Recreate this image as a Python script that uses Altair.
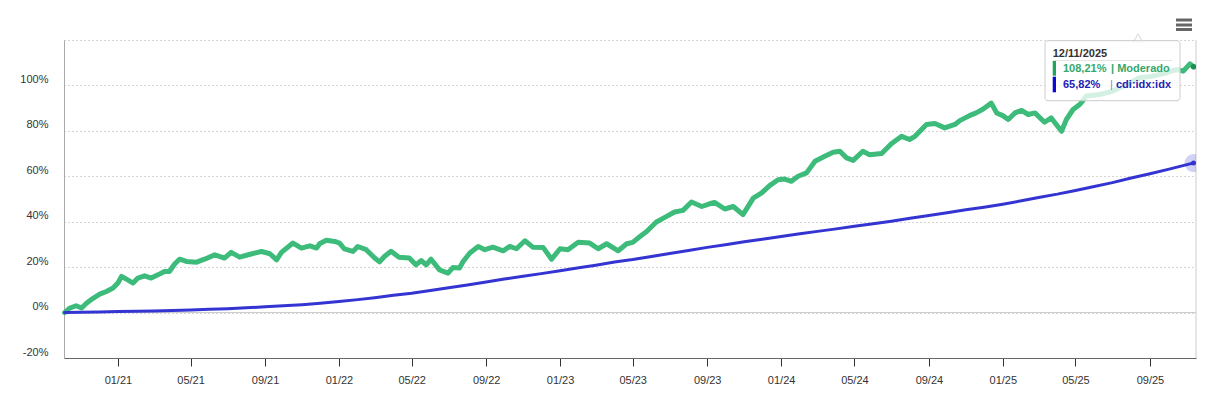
import altair as alt
import pandas as pd

# ---------------- data ----------------
moderado_dates = [
    "2020-10-05", "2020-10-13", "2020-10-24", "2020-11-02", "2020-11-10", "2020-11-21",
    "2020-12-02", "2020-12-13", "2020-12-24", "2021-01-01", "2021-01-07", "2021-01-15",
    "2021-01-26", "2021-02-03", "2021-02-14", "2021-02-25", "2021-03-08", "2021-03-19",
    "2021-03-27", "2021-04-05", "2021-04-13", "2021-04-24", "2021-05-11", "2021-05-24",
    "2021-06-10", "2021-06-26", "2021-07-07", "2021-07-21", "2021-08-09", "2021-08-26",
    "2021-09-09", "2021-09-20", "2021-09-28", "2021-10-17", "2021-10-31", "2021-11-14",
    "2021-11-25", "2021-11-30", "2021-12-11", "2021-12-25", "2022-01-02", "2022-01-10",
    "2022-01-24", "2022-02-01", "2022-02-15", "2022-03-01", "2022-03-09", "2022-03-17",
    "2022-03-28", "2022-04-10", "2022-04-27", "2022-05-08", "2022-05-17", "2022-05-25",
    "2022-06-02", "2022-06-16", "2022-06-30", "2022-07-08", "2022-07-19", "2022-07-25",
    "2022-08-05", "2022-08-19", "2022-08-30", "2022-09-12", "2022-09-29", "2022-10-10",
    "2022-10-21", "2022-11-04", "2022-11-17", "2022-12-04", "2022-12-18", "2023-01-01",
    "2023-01-14", "2023-01-31", "2023-02-19", "2023-03-05", "2023-03-19", "2023-04-07",
    "2023-04-21", "2023-05-01", "2023-05-13", "2023-05-24", "2023-06-09", "2023-06-23",
    "2023-07-09", "2023-07-23", "2023-08-06", "2023-08-23", "2023-09-05", "2023-09-13",
    "2023-09-30", "2023-10-14", "2023-10-30", "2023-11-16", "2023-11-30", "2023-12-13",
    "2023-12-27", "2024-01-07", "2024-01-18", "2024-01-29", "2024-02-12", "2024-02-26",
    "2024-03-13", "2024-03-27", "2024-04-07", "2024-04-18", "2024-04-29", "2024-05-15",
    "2024-05-26", "2024-06-15", "2024-07-01", "2024-07-18", "2024-07-31", "2024-08-09",
    "2024-08-28", "2024-09-11", "2024-09-27", "2024-10-14", "2024-10-22", "2024-11-07",
    "2024-11-18", "2024-11-29", "2024-12-13", "2024-12-22", "2025-01-01", "2025-01-10",
    "2025-01-21", "2025-02-01", "2025-02-12", "2025-02-23", "2025-03-11", "2025-03-22",
    "2025-04-08", "2025-04-16", "2025-04-27", "2025-05-08", "2025-05-19", "2025-06-10",
    "2025-07-02", "2025-07-24", "2025-08-15", "2025-09-06", "2025-09-28", "2025-10-15",
    "2025-10-26", "2025-11-06", "2025-11-12",
]
moderado_values = [
    0.0, 1.9, 3.0, 2.0, 4.1, 6.3,
    8.1, 9.3, 10.8, 13.0, 15.9, 14.7,
    13.0, 15.2, 16.2, 15.2, 16.6, 18.1,
    18.1, 21.5, 23.5, 22.5, 22.2, 23.5,
    25.4, 24.0, 26.5, 24.4, 25.8, 26.9,
    25.9, 23.2, 26.5, 30.6, 28.4, 29.4,
    28.4, 30.3, 31.8, 31.3, 30.6, 28.0,
    26.9, 29.1, 27.7, 24.0, 22.3, 24.7,
    27.0, 24.4, 24.0, 21.0, 22.9, 21.0,
    23.5, 18.8, 17.4, 19.8, 19.6, 22.5,
    26.2, 29.1, 27.7, 28.8, 27.2, 29.1,
    28.1, 31.6, 28.8, 28.7, 23.5, 28.1,
    27.7, 31.0, 30.6, 28.1, 30.3, 27.2,
    30.3, 30.9, 33.5, 35.7, 39.9, 41.9,
    44.3, 45.0, 48.7, 46.7, 47.9, 48.5,
    45.6, 46.7, 43.1, 50.4, 52.7, 55.9,
    58.5, 58.8, 57.8, 60.0, 61.5, 66.6,
    68.8, 70.6, 71.0, 68.1, 67.0, 71.0,
    69.5, 70.0, 74.3, 77.6, 76.2, 77.6,
    82.8, 83.2, 81.3, 82.8, 84.5, 86.7,
    87.9, 89.5, 92.2, 87.9, 86.7, 85.0,
    87.9, 89.0, 87.2, 87.9, 83.8, 85.7,
    79.8, 85.0, 89.4, 91.6, 95.3, 96.0,
    97.5, 100.4, 103.4, 104.1, 105.6, 107.0,
    106.3, 109.5, 108.21,
]

cdi_dates = [
    "2020-10-05", "2020-11-01", "2020-12-01", "2021-01-01", "2021-02-01", "2021-03-01",
    "2021-04-01", "2021-05-01", "2021-06-01", "2021-07-01", "2021-08-01", "2021-09-01",
    "2021-10-01", "2021-11-01", "2021-12-01", "2022-01-01", "2022-02-01", "2022-03-01",
    "2022-04-01", "2022-05-01", "2022-06-01", "2022-07-01", "2022-08-01", "2022-09-01",
    "2022-10-01", "2022-11-01", "2022-12-01", "2023-01-01", "2023-02-01", "2023-03-01",
    "2023-04-01", "2023-05-01", "2023-06-01", "2023-07-01", "2023-08-01", "2023-09-01",
    "2023-10-01", "2023-11-01", "2023-12-01", "2024-01-01", "2024-02-01", "2024-03-01",
    "2024-04-01", "2024-05-01", "2024-06-01", "2024-07-01", "2024-08-01", "2024-09-01",
    "2024-10-01", "2024-11-01", "2024-12-01", "2025-01-01", "2025-02-01", "2025-03-01",
    "2025-04-01", "2025-05-01", "2025-06-01", "2025-07-01", "2025-08-01", "2025-09-01",
    "2025-10-01", "2025-11-01", "2025-11-12",
]
cdi_values = [
    0.0, 0.14, 0.29, 0.45, 0.60, 0.73,
    0.93, 1.14, 1.41, 1.72, 2.09, 2.53,
    2.98, 3.48, 4.09, 4.89, 5.70, 6.55,
    7.60, 8.55, 9.75, 10.95, 12.15, 13.50,
    14.75, 15.95, 17.15, 18.45, 19.75, 20.85,
    22.25, 23.35, 24.70, 26.00, 27.30, 28.70,
    29.90, 31.15, 32.30, 33.45, 34.70, 35.75,
    36.85, 38.05, 39.15, 40.25, 41.50, 42.70,
    43.90, 45.23, 46.37, 47.73, 49.22, 50.70,
    52.15, 53.76, 55.51, 57.22, 59.23, 61.08,
    63.05, 65.13, 65.82,
]

series_names = ["Moderado", "cdi:idx:idx"]
tooltip_date = "12/11/2025"
x_tick_months = [(2021, 1), (2021, 5), (2021, 9), (2022, 1), (2022, 5), (2022, 9),
                 (2023, 1), (2023, 5), (2023, 9), (2024, 1), (2024, 5), (2024, 9),
                 (2025, 1), (2025, 5), (2025, 9)]
y_tick_values = [-20, 0, 20, 40, 60, 80, 100, 120]
x_domain = [(2020, 10, 4), (2025, 11, 16)]
y_domain = [-20, 120]

# ---------------- styling ----------------
FONT = "Liberation Sans"
GREEN = "#3dbb7a"
BLUE = "#3434d2"
W, H = 1132, 318

moderado_df = pd.DataFrame({"date": moderado_dates, "value": moderado_values})
cdi_df = pd.DataFrame({"date": cdi_dates, "value": cdi_values})
last_mod = moderado_df.iloc[[-1]]
last_cdi = cdi_df.iloc[[-1]]
zero_df = pd.DataFrame({"value": [0]})
one = pd.DataFrame({"a": [0]})


def fmt_pct(v):
    return f"{v:.2f}".replace(".", ",") + "%"


x_scale = alt.Scale(type="utc", domain=[alt.DateTime(year=y, month=m, date=d, utc=True)
                                        for (y, m, d) in x_domain])
y_scale = alt.Scale(domain=y_domain, nice=False, zero=False)

x_axis = alt.Axis(
    values=[alt.DateTime(year=y, month=m, date=1, utc=True) for (y, m) in x_tick_months],
    labelExpr="utcFormat(datum.value, '%m/%y')",
    grid=False, tickSize=8, tickColor="#333333",
    domainColor="#666666", labelPadding=8, labelFontSize=11, labelColor="#333333",
    labelFont=FONT, labelFlush=False, labelOverlap=False, title=None,
)
y_axis = alt.Axis(
    values=y_tick_values,
    labelExpr="datum.value >= 120 ? '' : datum.value + '%'",
    grid=True, gridDash=[1, 3], gridColor="#aaaaaa", domainColor="#aaaaaa",
    ticks=False, tickSize=0, labelPadding=16, labelOffset=-6, labelFontSize=11,
    labelColor="#333333", labelFont=FONT, title=None,
)

X = alt.X("date:T", scale=x_scale, axis=x_axis, title=None)
Y = alt.Y("value:Q", scale=y_scale, axis=y_axis, title=None)

zero_line = alt.Chart(zero_df).mark_rule(color="#cccccc", strokeWidth=1).encode(y=Y)

right_border = alt.Chart(one).mark_rule(color="#cccccc", strokeWidth=1).encode(
    x=alt.value(W), y=alt.value(0), y2=alt.value(H))

green_line = alt.Chart(moderado_df).mark_line(
    color=GREEN, strokeWidth=5, strokeJoin="round", strokeCap="round"
).encode(x=X, y=Y)

blue_line = alt.Chart(cdi_df).mark_line(
    color=BLUE, strokeWidth=3, strokeJoin="round", strokeCap="round"
).encode(x=X, y=Y)

halo = alt.Chart(last_cdi).mark_circle(color=BLUE, opacity=0.22, size=330, clip=True).encode(x=X, y=Y)
blue_dot = alt.Chart(last_cdi).mark_circle(color=BLUE, opacity=1, size=25, clip=True).encode(x=X, y=Y)
green_dot = alt.Chart(last_mod).mark_circle(color="#1e8f50", opacity=1, size=30, clip=True).encode(x=X, y=Y)

# tooltip box
TX0, TX1, TY0, TY1 = 981, 1116, 0.7, 60.7
pointer = alt.Chart(one).mark_point(shape="triangle-up", filled=True, fill="white",
                                    stroke="#c8c8c8", strokeWidth=1, size=90).encode(
    x=alt.value(1074), y=alt.value(-2))
box = alt.Chart(one).mark_rect(fill="white", fillOpacity=0.78, stroke="#cccccc",
                               strokeWidth=1, cornerRadius=3).encode(
    x=alt.value(TX0), x2=alt.value(TX1), y=alt.value(TY0), y2=alt.value(TY1))
divider = alt.Chart(one).mark_rule(color="#e4e4e4", strokeWidth=1).encode(
    x=alt.value(989), x2=alt.value(1108), y=alt.value(20.5))
bar_g = alt.Chart(one).mark_rect(fill="#20a35c").encode(
    x=alt.value(988.7), x2=alt.value(992), y=alt.value(21), y2=alt.value(35.7))
bar_b = alt.Chart(one).mark_rect(fill="#0a0ad0").encode(
    x=alt.value(988.7), x2=alt.value(992), y=alt.value(36.7), y2=alt.value(52.3))


def label(text, x, y, color, weight="bold"):
    return alt.Chart(one).mark_text(
        align="left", baseline="middle", font=FONT, fontSize=11, fontWeight=weight, color=color
    ).encode(x=alt.value(x), y=alt.value(y), text=alt.value(text))


t_date = label(tooltip_date, 988.7, 14, "#333333")
t_g1 = label(fmt_pct(moderado_values[-1]), 999, 28.5, "#34a86c")
t_g2 = label("| " + series_names[0], 1047, 28.5, "#34a86c")
t_b1 = label(fmt_pct(cdi_values[-1]), 999, 44.5, "#2222b4")
t_b2 = label("|", 1046, 44.5, "#8080e0", weight="normal")
t_b3 = label(series_names[1], 1052, 44.5, "#2222b4")

# hamburger menu icon
menu = [alt.Chart(one).mark_rule(color="#666666", strokeWidth=3).encode(
    x=alt.value(1112), x2=alt.value(1128), y=alt.value(yy)) for yy in (-20, -15, -10.5)]

chart = alt.layer(
    zero_line, right_border, green_line, blue_line, halo, blue_dot, green_dot,
    pointer, box, divider, bar_g, bar_b, t_date, t_g1, t_g2, t_b1, t_b2, t_b3, *menu
).properties(
    width=W, height=H,
    padding={"left": 56, "top": 32, "right": 15, "bottom": 28},
    autosize=alt.AutoSizeParams(type="none"),
    background="white",
).configure_view(stroke=None)

chart.save("out.html", embed_options={"renderer": "svg", "actions": False})
